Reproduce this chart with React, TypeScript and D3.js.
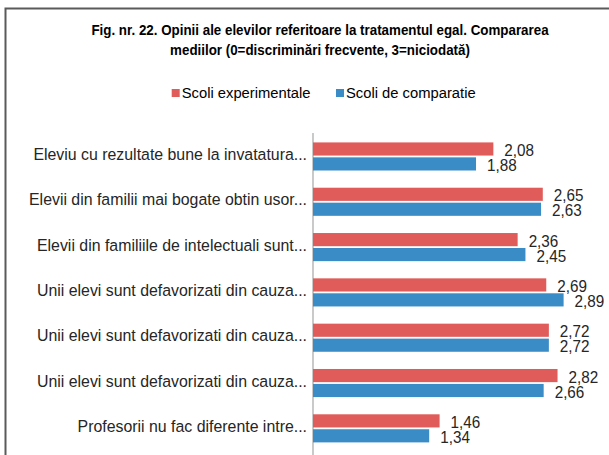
import * as d3 from 'd3'

const categories = [
  'Eleviu cu rezultate bune la invatatura...',
  'Elevii din familii mai bogate obtin usor...',
  'Elevii din familiile de intelectuali sunt...',
  'Unii elevi sunt defavorizati din cauza...',
  'Unii elevi sunt defavorizati din cauza...',
  'Unii elevi sunt defavorizati din cauza...',
  'Profesorii nu fac diferente intre...',
]
const experimentale = [2.08, 2.65, 2.36, 2.69, 2.72, 2.82, 1.46]
const comparatie = [1.88, 2.63, 2.45, 2.89, 2.72, 2.66, 1.34]
const seriesNames = ['Scoli experimentale', 'Scoli de comparatie']
const colors = ['#E05C5A', '#3A8CC6']

const width = 609
const height = 455
const axisX = 313
const font = '"Liberation Sans", Arial, sans-serif'
const squeeze = 0.935 // the original rendering is horizontally condensed

export default function App() {
  const x = d3.scaleLinear().domain([0, 3.5]).range([axisX, axisX + 303.5])
  const y = d3
    .scaleBand<number>()
    .domain(d3.range(categories.length))
    .range([133.8, 451])
    .paddingInner(0.38)
    .paddingOuter(0.19)
  const inner = d3
    .scaleBand<number>()
    .domain([0, 1])
    .range([0, y.bandwidth()])
    .paddingInner(0.12)

  const fmt = (v: number) => v.toFixed(2).replace('.', ',')
  const series = [experimentale, comparatie]

  return (
    <svg
      width={width}
      height={height}
      style={{ position: 'absolute', left: 0, top: 0, background: '#fff' }}
    >
      <rect x={0} y={0} width={width} height={height} fill="#fff" />
      {/* frame (right and bottom edges fall outside the crop) */}
      <path d="M5.5,460 V8.5 H615" fill="none" stroke="#5a5a5a" strokeWidth={2} />

      <g fontFamily={font} fontSize={14} fontWeight="bold" fill="#000" textAnchor="middle">
        <g transform="translate(320,34.7) scale(0.955,1)">
          <text>Fig. nr. 22. Opinii ale elevilor referitoare la tratamentul egal. Compararea</text>
        </g>
        <g transform="translate(320,54.7) scale(0.955,1)">
          <text>mediilor (0=discriminări frecvente, 3=niciodată)</text>
        </g>
      </g>

      <g fontFamily={font} fontSize={15} fill="#000">
        {seriesNames.map((name, i) => {
          const lx = i === 0 ? 171.7 : 336
          return (
            <g key={name}>
              <rect x={lx} y={89} width={8} height={8} fill={colors[i]} />
              <g transform={`translate(${lx + 10},98.3) scale(0.985,1)`}>
                <text>{name}</text>
              </g>
            </g>
          )
        })}
      </g>

      <line x1={axisX} x2={axisX} y1={133} y2={height} stroke="#a6a6a6" strokeWidth={1.2} />

      {categories.map((cat, i) => {
        const y0 = y(i)!
        return (
          <g key={i}>
            <g transform={`translate(307,${y0 + y.bandwidth() / 2 + 3.6}) scale(${squeeze},1)`}>
              <text textAnchor="end" fontFamily={font} fontSize={17} fill="#262626">
                {cat}
              </text>
            </g>
            {series.map((vals, s) => {
              const by = y0 + inner(s)!
              return (
                <g key={s}>
                  <rect
                    x={x(0)}
                    y={by}
                    width={x(vals[i]) - x(0)}
                    height={inner.bandwidth()}
                    fill={colors[s]}
                  />
                  <g
                    transform={`translate(${x(vals[i]) + 11},${by + inner.bandwidth() / 2 + 7}) scale(0.925,1)`}
                  >
                    <text fontFamily={font} fontSize={16.5} fill="#262626">
                      {fmt(vals[i])}
                    </text>
                  </g>
                </g>
              )
            })}
          </g>
        )
      })}
    </svg>
  )
}
